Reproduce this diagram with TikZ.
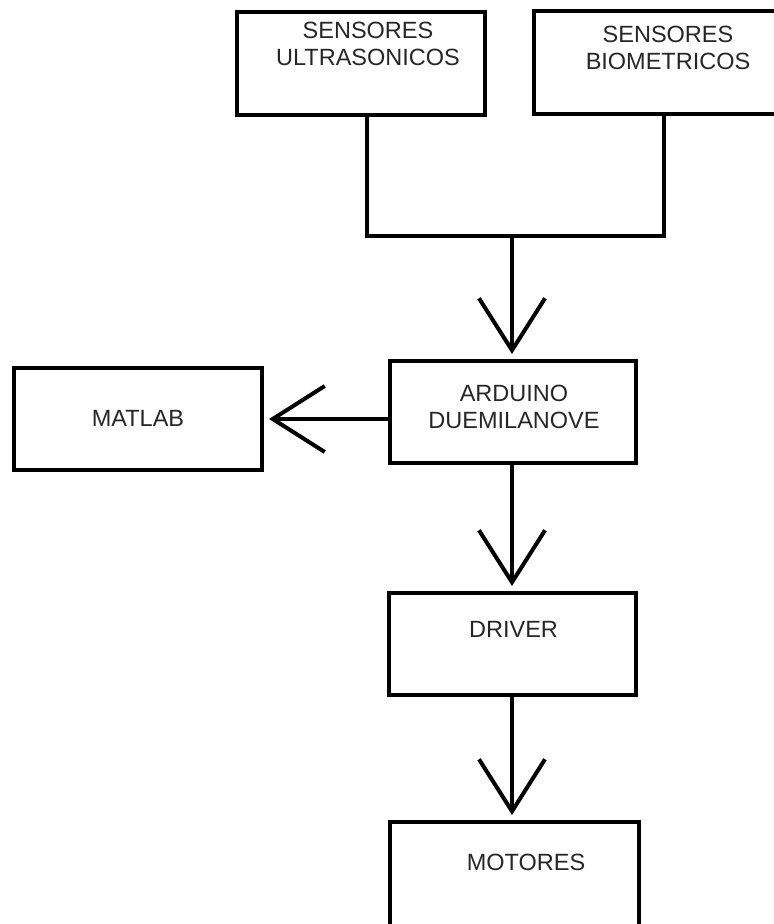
\documentclass[tikz,border=0pt]{standalone}
\usepackage{fontspec}
\setmainfont{Liberation Sans}
\usetikzlibrary{arrows.meta,positioning,calc}

\begin{document}
\begin{tikzpicture}[
    x=1pt, y=-1pt,
    font=\fontsize{23.5}{27}\selectfont,
    % --- node styles ---
    box/.style = {rectangle, draw=black, line width=4pt,
                  minimum width=248pt, minimum height=103pt,
                  inner sep=0pt},
    txt/.style = {align=center, inner sep=0pt, text=black!85},
    wire/.style = {line width=4pt, line join=miter},
    arr/.style  = {-{Straight Barb[length=52pt, width=66pt, sharp]},
                   line width=4pt, shorten >=5pt},
]
\useasboundingbox (0,0) rectangle (774,924);

%============ SENSORS ============
\node (ultra) [box] at (361,63.5) {};
\node (ultra_txt) [txt] at (368,44) {SENSORES\\ULTRASONICOS};

\node (bio) [box, minimum width=250pt] at (659,62) {};
\node (bio_txt) [txt] at (668,48) {SENSORES\\BIOMETRICOS};

%============ CONTROLLER ============
\node (ard) [box, minimum width=246pt, minimum height=102pt] at (513,412) {};
\node (ard_txt) [txt] at (514,407) {ARDUINO\\DUEMILANOVE};

\node (mat) [box, minimum height=102pt] at (138,419) {};
\node (mat_txt) [txt] at (138,418.5) {MATLAB};

%============ OUTPUT PATH ============
\node (drv) [box, minimum width=247pt, minimum height=102pt] at (512.5,644) {};
\node (drv_txt) [txt] at (513.5,629.5) {DRIVER};

\node (mot) [box, minimum width=249pt, minimum height=108pt] at (514.5,876) {};
\node (mot_txt) [txt] at (526,862) {MOTORES};

%============ SENSOR MERGE ============
\coordinate (j1) at (367,236);
\coordinate (j2) at (664,236);
\coordinate (fork) at (512,236);
\draw[wire] (ultra.south -| j1) -- (j1) -- (j2) -- (bio.south -| j2);

%============ ARROWS ============
\draw[arr] (fork) -- (fork |- ard.north);
\draw[arr] (ard.west |- mat.east) -- (mat.east);
\foreach \a/\b in {ard/drv, drv/mot}
  \draw[arr] (fork |- \a.south) -- (fork |- \b.north);

\end{tikzpicture}
\end{document}
